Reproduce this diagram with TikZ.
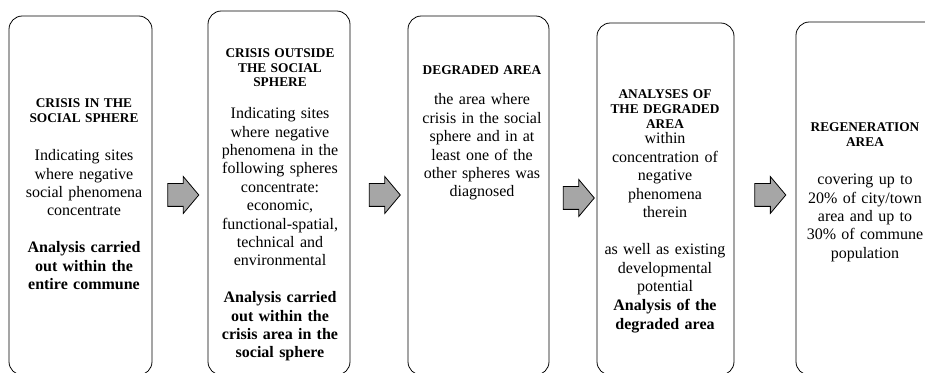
\documentclass[tikz,border=0pt]{standalone}
\usepackage{fontspec}
\setmainfont{Liberation Serif}
\usetikzlibrary{shapes.arrows, fit}
\definecolor{arrowgray}{RGB}{166, 166, 166}
\tikzstyle{panel} = [draw, rounded corners=10pt, inner sep=0pt, line width=0.6pt]
\tikzstyle{head} = [anchor=base, text width=110pt, align=center, inner sep=0pt, font=\fontsize{10}{11}\selectfont\bfseries]
\tikzstyle{body} = [anchor=base, text width=110pt, align=center, inner sep=0pt, font=\fontsize{12}{13.8}\selectfont]
\tikzstyle{note} = [body, font=\fontsize{12}{13.8}\selectfont\bfseries]
\tikzstyle{blockarrow} = [single arrow, draw, fill=arrowgray, line width=0.6pt, inner xsep=0pt, inner ysep=8.25pt, minimum height=23.25pt, minimum width=27pt, single arrow head extend=5.25pt, single arrow tip angle=100]

\begin{document}
\begin{tikzpicture}[x=0.75pt, y=-0.75pt]
    \useasboundingbox (0,0) rectangle (925,373);

    % Boxes
    \node[panel, fit={(9,16) (152,375)}] (b1) {};
    \node[panel, fit={(208,11) (350,375)}] (b2) {};
    \node[panel, fit={(408,16) (549,375)}] (b3) {};
    \node[panel, fit={(597,23) (734,375)}] (b4) {};
    \node[panel, fit={(796,22) (938,375)}] (b5) {};

    % Arrows between the boxes
    \foreach \n/\x/\y in {1/178.5/195, 2/380/195, 3/574/198, 4/765.5/195} {
        \node[blockarrow] (arr\n) at (\x, \y) {};
    }

    % Crisis in the social sphere
    \node[head] (h1) at (84, 107.4) {CRISIS IN THE\\SOCIAL SPHERE};
    \node[body] (d1) at (84, 160.7) {Indicating sites\\where negative\\social phenomena\\concentrate};
    \node[note] (n1) at (84, 252.7) {Analysis carried\\out within the\\entire commune};

    % Crisis outside the social sphere
    \node[head] (h2) at (280, 57.4) {CRISIS OUTSIDE\\THE SOCIAL\\SPHERE};
    \node[body] (d2) at (280, 118.7) {Indicating sites\\where negative\\phenomena in the\\following spheres\\concentrate:\\economic,\\functional-spatial,\\technical and\\environmental};
    \node[note] (n2) at (280, 302.7) {Analysis carried\\out within the\\crisis area in the\\social sphere};

    % Degraded area
    \node[head] (h3) at (482, 74.4) {DEGRADED AREA};
    \node[body] (d3) at (482, 105) {the area where\\crisis in the social\\sphere and in at\\least one of the\\other spheres was\\diagnosed};

    % Analyses of the degraded area
    \node[head] (h4) at (665, 99) {ANALYSES OF\\THE DEGRADED\\AREA};
    \node[body] (d4) at (665, 144) {within\\concentration of\\negative\\phenomena\\therein};
    \node[body] (e4) at (665, 255) {as well as existing\\developmental\\potential};
    \node[note] (n4) at (665, 311) {Analysis of the\\degraded area};

    % Regeneration area
    \node[head] (h5) at (865, 131.4) {REGENERATION\\AREA};
    \node[body] (d5) at (865, 184.7) {covering up to\\20\% of city/town\\area and up to\\30\% of commune\\population};
\end{tikzpicture}
\end{document}
